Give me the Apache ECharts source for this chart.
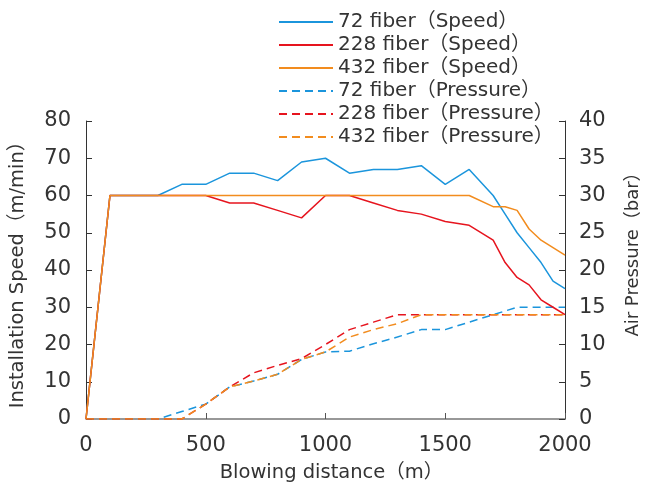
<!DOCTYPE html>
<html>
<head>
<meta charset="utf-8">
<script src="https://cdn.jsdelivr.net/npm/echarts@6/dist/echarts.min.js"></script>
<style>html,body{margin:0;padding:0;background:#fff}#c{width:657px;height:482px}</style>
</head>
<body>
<div id="c"></div>
<script>
const distances = [0,100,200,300,400,500,600,700,800,900,1000,1100,1200,1300,1400,1500,1600,1700,1750,1800,1850,1900,1950,2000];
const speed72  = [0,60,60,60,63,63,66,66,64,69,70,66,67,67,68,63,67,60,55,50,46,42,37,35];
const speed228 = [0,60,60,60,60,60,58,58,56,54,60,60,58,56,55,53,52,48,42,38,36,32,30,28];
const speed432 = [0,60,60,60,60,60,60,60,60,60,60,60,60,60,60,60,60,57,57,56,51,48,46,44];
const pres72   = [0,0,0,0,1,2,4.3,5.1,6,8,9,9.1,10.1,11,12,12,13,14,14.5,15,15,15,15,15];
const pres228  = [0,0,0,0,0,2,4.3,6.2,7.2,8.1,10,12,13,14,14,14,14,14,14,14,14,14,14,14];
const pres432  = [0,0,0,0,0,2,4.3,5.1,6,8,9,11,12,12.8,14,14,14,14,14,14,14,14,14,14];
const seriesNames = ['72 fiber（Speed）','228 fiber（Speed）','432 fiber（Speed）','72 fiber（Pressure）','228 fiber（Pressure）','432 fiber（Pressure）'];

const colors = ['#1b95dc','#e6141e','#f28c1e'];
const font = '"DejaVu Sans", "Noto Sans CJK JP", sans-serif';
const pair = (vals) => distances.map((d,i)=>[d, vals[i]]);
const dataSets = [speed72, speed228, speed432, pres72, pres228, pres432];

const series = dataSets.map((vals, i) => ({
  name: seriesNames[i],
  type: 'line',
  yAxisIndex: i < 3 ? 0 : 1,
  data: pair(vals),
  symbol: 'none',
  z: i < 3 ? 3 : 2,
  lineStyle: { color: colors[i % 3], width: 1.5, type: i < 3 ? 'solid' : [8, 5] },
  itemStyle: { color: colors[i % 3] }
}));

const labelStyle = { fontSize: 21, color: '#333', fontFamily: font };
const chart = echarts.init(document.getElementById('c'));
chart.setOption({
  animation: false,
  textStyle: { fontFamily: font },
  grid: { left: 86, right: 92, top: 121, bottom: 63, containLabel: false, outerBoundsMode: 'none' },
  legend: {
    orient: 'vertical', left: 273, top: 7,
    itemWidth: 54, itemHeight: 10, itemGap: 3,
    itemStyle: { opacity: 0 },
    textStyle: { fontSize: 20, color: '#333', fontFamily: font },
    data: seriesNames
  },
  xAxis: {
    type: 'value', min: 0, max: 2000, interval: 500,
    name: 'Blowing distance（m）', nameLocation: 'middle', nameGap: 44,
    nameTextStyle: { fontSize: 19.5, color: '#333', padding: [0, 0, 0, 12] },
    axisLine: { lineStyle: { color: '#777', width: 1.5 } },
    axisTick: { inside: true, length: 6, lineStyle: { color: '#555' } },
    axisLabel: Object.assign({ margin: 16, formatter: v => String(v) }, labelStyle),
    splitLine: { show: false }
  },
  yAxis: [{
    type: 'value', min: 0, max: 80, interval: 10,
    name: 'Installation Speed（m/min）', nameLocation: 'middle', nameGap: 58,
    nameTextStyle: { fontSize: 19.5, color: '#333' },
    axisLine: { show: true, lineStyle: { color: '#333', width: 1 } },
    axisTick: { show: true, inside: true, length: 6, lineStyle: { color: '#333' } },
    axisLabel: Object.assign({ margin: 15 }, labelStyle),
    splitLine: { show: false }
  }, {
    type: 'value', min: 0, max: 40, interval: 5, position: 'right',
    name: 'Air Pressure（bar）', nameLocation: 'middle', nameGap: 59,
    nameTextStyle: { fontSize: 18, color: '#333', padding: [0, 0, 0, 40] },
    axisLine: { show: true, lineStyle: { color: '#333', width: 1 } },
    axisTick: { show: true, inside: true, length: 6, lineStyle: { color: '#333' } },
    axisLabel: Object.assign({ margin: 14 }, labelStyle),
    splitLine: { show: false }
  }],
  series: series
});
</script>
</body>
</html>
